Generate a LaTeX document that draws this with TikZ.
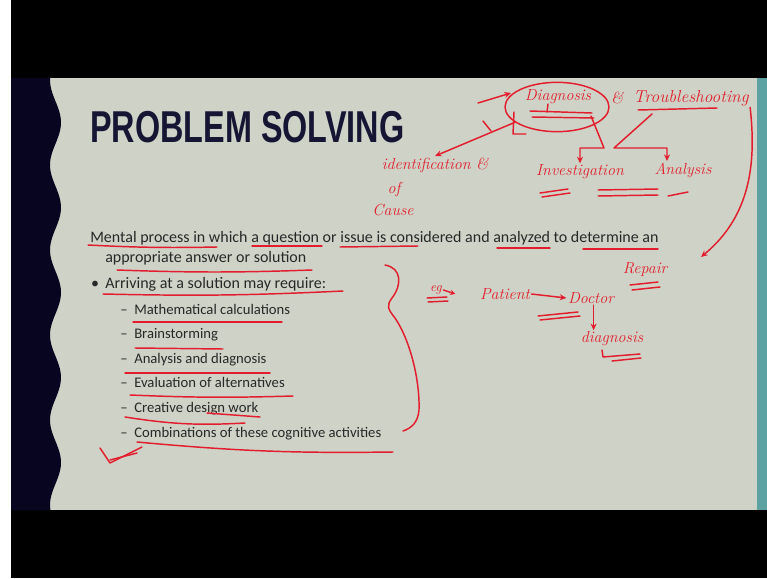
\documentclass[tikz,border=0pt]{standalone}
\usepackage{fontspec}
\usepackage{graphicx}
\newfontfamily\slidefont[Ligatures=TeX]{Carlito}
\newfontfamily\titlefont{Liberation Sans}
\usetikzlibrary{positioning, calc, arrows.meta, shapes.geometric}

\definecolor{slidebg}{RGB}{207,210,198}
\definecolor{stripnavy}{RGB}{8,5,32}
\definecolor{stripteal}{RGB}{92,162,162}
\definecolor{titleink}{RGB}{22,22,52}
\definecolor{bodyink}{RGB}{40,40,40}
\definecolor{penred}{RGB}{226,30,46}

\tikzset{
  bodytext/.style={anchor=base west, inner sep=0pt, text=bodyink, font=\slidefont\fontsize{12}{14}\selectfont},
  subtext/.style={bodytext, font=\slidefont\fontsize{11}{13}\selectfont},
  pen/.style={draw=penred, line width=1.1pt, line cap=round, line join=round},
  penarrow/.style={pen, -{Stealth[length=5pt, width=4.5pt]}},
  hand/.style={text=penred, inner sep=1pt, font=\itshape\fontsize{12}{12}\selectfont},
}

\begin{document}
\begin{tikzpicture}[x=0.75pt, y=-0.75pt]
\useasboundingbox (0,0) rectangle (767,578);

    % Screen frame and slide background
    \fill[white] (0,0) rectangle (767,578);
    \fill[black] (11,0) rectangle (767,578);
    \fill[slidebg] (11,78) rectangle (767,510);
    \fill[stripteal] (757,78) rectangle (767,510);
    \fill[stripnavy] (11,78) -- plot[domain=78:510, samples=120, variable=\t]
        ({55.5-5.5*cos(4.2353*(\t-80))}, \t) -- (11,510) -- cycle;

    % Title
    \node[anchor=base west, inner sep=0pt, text=titleink,
          font=\titlefont\bfseries\fontsize{33.5}{36}\selectfont] (title) at (90,142)
          {\scalebox{0.725}[1]{PROBLEM SOLVING}};

    % Slide body text
    \node[bodytext] (line1) at (90,242)
          {Mental process in which a question or issue is considered and analyzed to determine an};
    \node[bodytext] (line2) at (105,262) {appropriate answer or solution};
    \node[bodytext, anchor=base] (bullet) at (95,288) {\textbullet};
    \node[bodytext] (arrive) at (105,288) {Arriving at a solution may require:};
    \foreach \txt [count=\i from 0] in {Mathematical calculations, Brainstorming,
        Analysis and diagnosis, Evaluation of alternatives, Creative design work,
        Combinations of these cognitive activities} {
      \node[subtext] (dash\i) at (120,{314+24.6*\i}) {\textendash};
      \node[subtext] (sub\i) at (134,{314+24.6*\i}) {\txt};
    }

    % Red underlines on the slide text
    \draw[pen] (88,245) to[bend right=2] (217,247);
    \draw[pen] (252,246) -- (322,246);
    \draw[pen] (340,247) -- (418,246);
    \draw[pen] (497,248) -- (550,248);
    \draw[pen] (583,249) -- (658,249);
    \draw[pen] (117,270) to[bend right=2] (312,270);
    \draw[pen] (103,294) to[bend right=2] (343,291);
    \draw[pen] (133,322) -- (282,322);
    \draw[pen] (135,348) -- (223,349);
    \draw[pen] (125,373) -- (270,373);
    \draw[pen] (130,395) to[bend right=2] (293,396);
    \draw[pen] (125,417) to[bend right=6] (245,423);
    \draw[pen] (207,413) -- (260,417);
    \draw[pen] (137,442) to[bend right=3] (393,452);

    % Check mark below the list
    \draw[pen] (100,448) -- (110,463) -- (142,447);
    \draw[pen] (110,460) -- (137,453);

    % Brace round the list
    \draw[pen] (385,265) .. controls (402,268) and (402,285) .. (392,298)
               .. controls (386,306) and (388,309) .. (395,318)
               .. controls (410,340) and (420,380) .. (419,410)
               .. controls (418,422) and (412,428) .. (403,431);

    % Handwritten notes: diagnosis and troubleshooting
    \node[hand] (diag) at (558,97) {Diagnosis};
    \node[pen, ellipse, minimum width=78pt, minimum height=37pt] (ring) at (557,107) {};
    \node[hand] (amp) at (617,98) {\&};
    \node[hand, font=\itshape\fontsize{13}{13}\selectfont] (trouble) at (691,98) {Troubleshooting};
    \draw[pen] (530,111) -- (592,113);
    \draw[pen] (532,117) -- (594,118);
    \draw[pen] (548,104) -- (547,112);
    \draw[pen] (638,110) -- (717,108);
    \draw[penarrow] (478,103) -- (511,93);
    \draw[pen] (514,112) -- (513,134) -- (526,134);

    \node[hand] (ident) at (435,165) {identification \&};
    \node[hand] (of) at (394,189) {of};
    \node[hand] (cause) at (393,210) {Cause};
    \draw[penarrow] (ring.200) -- (ident.north);
    \draw[pen] (483,121) -- (491,131);

    \node[hand] (invest) at (580,172) {Investigation};
    \node[hand] (anal) at (683,170) {Analysis};
    \draw[penarrow] (591,116) -- (604,148) -- (580,148) -- (invest.north -| 580,0);
    \draw[penarrow] (652,114) -- (614,148) -- (667,148) -- (anal.north -| 667,0);
    \draw[pen] (540,193) -- (568,189);
    \draw[pen] (542,197) -- (570,193);
    \draw[pen] (598,190) -- (658,189);
    \draw[pen] (598,196) -- (658,195);
    \draw[pen] (668,196) -- (688,192);

    \node[hand] (repair) at (645,270) {Repair};
    \draw[pen] (630,285) -- (658,282);
    \draw[pen] (632,290) -- (660,287);
    \draw[penarrow] (trouble.south east) .. controls (756,160) and (752,215) .. (701,257);

    % Handwritten example
    \node[hand, font=\itshape\fontsize{10}{10}\selectfont] (eg) at (436,290) {eg};
    \node[hand] (patient) at (505,294) {Patient};
    \node[hand] (doctor) at (591,298) {Doctor};
    \node[hand] (dgn) at (612,339) {diagnosis};
    \draw[pen] (427,298) -- (447,297);
    \draw[pen] (428,302) -- (448,301);
    \draw[pen, -{Stealth[length=4pt, width=4pt]}] (eg.east) -- ++(12,4);
    \draw[penarrow] (patient.east) -- (doctor.west);
    \draw[pen] (538,316) -- (578,312);
    \draw[pen] (540,320) -- (580,316);
    \draw[penarrow] (doctor.290) -- (doctor.290 |- dgn.north);
    \draw[pen] (602,350) -- (603,357) -- (640,354);
    \draw[pen] (612,361) -- (641,358);

\end{tikzpicture}
\end{document}
